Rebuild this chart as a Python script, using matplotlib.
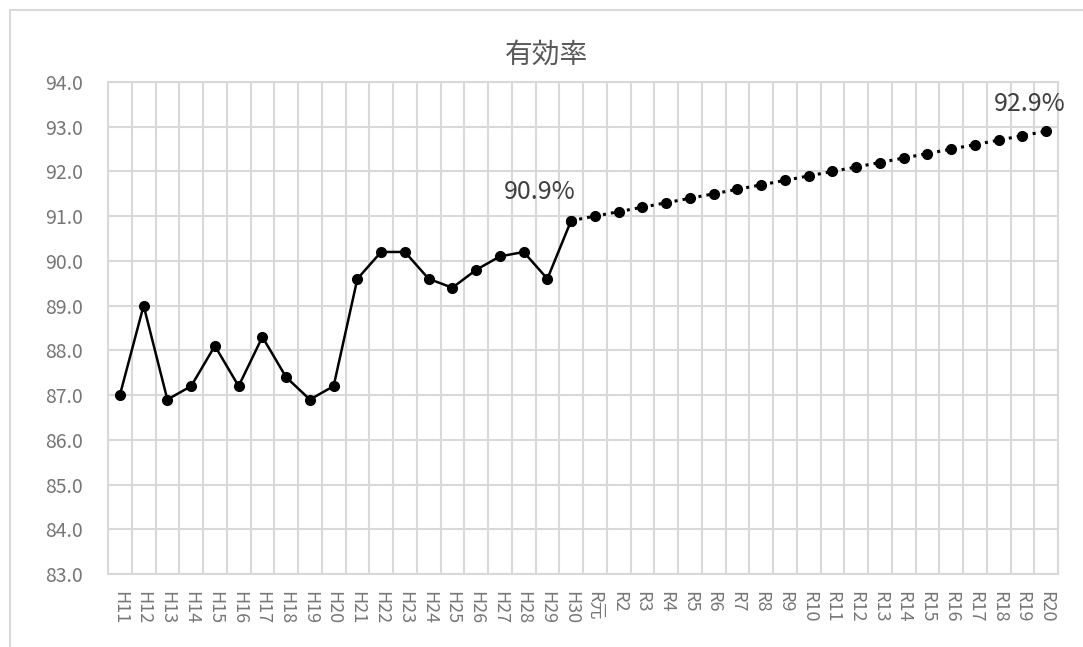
import matplotlib.pyplot as plt
from matplotlib.patches import Rectangle

plt.rcParams['font.family'] = ['Noto Sans CJK JP', 'DejaVu Sans']

# 年度ラベル（平成・令和）
years = ['H11', 'H12', 'H13', 'H14', 'H15', 'H16', 'H17', 'H18', 'H19', 'H20',
         'H21', 'H22', 'H23', 'H24', 'H25', 'H26', 'H27', 'H28', 'H29', 'H30',
         'R元', 'R2', 'R3', 'R4', 'R5', 'R6', 'R7', 'R8', 'R9', 'R10',
         'R11', 'R12', 'R13', 'R14', 'R15', 'R16', 'R17', 'R18', 'R19', 'R20']

# 実績値 H11〜H30
actual = [87.0, 89.0, 86.9, 87.2, 88.1, 87.2, 88.3, 87.4, 86.9, 87.2,
          89.6, 90.2, 90.2, 89.6, 89.4, 89.8, 90.1, 90.2, 89.6, 90.9]
# 目標値 H30〜R20
target = [90.9, 91.0, 91.1, 91.2, 91.3, 91.4, 91.5, 91.6, 91.7, 91.8,
          91.9, 92.0, 92.1, 92.2, 92.3, 92.4, 92.5, 92.6, 92.7, 92.8, 92.9]

yticks = [83.0, 84.0, 85.0, 86.0, 87.0, 88.0, 89.0, 90.0, 91.0, 92.0, 93.0, 94.0]

fig = plt.figure(figsize=(10.83, 6.47), dpi=100)
ax = fig.add_axes([108 / 1083, 1 - 574 / 647, 950 / 1083, 492 / 647])

# 外枠
fig.patches.append(Rectangle((10 / 1083, -0.1), 1.2, (647 - 10) / 647 + 0.1,
                             transform=fig.transFigure, fill=False,
                             edgecolor='#d9d9d9', linewidth=1.5))

x_act = list(range(len(actual)))
x_tgt = list(range(len(actual) - 1, len(years)))

ax.plot(x_tgt, target, ':', color='black', linewidth=2.2, marker='o',
        markersize=7, zorder=3)
ax.plot(x_act, actual, '-', color='black', linewidth=1.8, marker='o',
        markersize=7, zorder=4)

ax.annotate(f'{actual[-1]:.1f}%', (x_act[-1], actual[-1]),
            xytext=(-31, 29), textcoords='offset pixels',
            ha='center', va='center', fontsize=18, color='#404040')
ax.annotate(f'{target[-1]:.1f}%', (x_tgt[-1], target[-1]),
            xytext=(-16, 27), textcoords='offset pixels',
            ha='center', va='center', fontsize=18, color='#404040')

ax.set_xlim(-0.5, len(years) - 0.5)
ax.set_ylim(83, 94)
ax.set_yticks(yticks)
ax.set_yticklabels([f'{v:.1f}' for v in yticks])
ax.set_xticks(range(len(years)))
ax.set_xticklabels(years, rotation=270)
ax.set_xticks([i - 0.5 for i in range(len(years) + 1)], minor=True)

ax.grid(False)
ax.grid(True, which='minor', axis='x', color='#d9d9d9', linewidth=1.5)
ax.grid(True, which='major', axis='y', color='#d9d9d9', linewidth=1.5)
ax.set_axisbelow(True)
ax.tick_params(which='both', length=0)
ax.tick_params(axis='y', labelsize=14, labelcolor='#767676', pad=18)
ax.tick_params(axis='x', labelsize=13, labelcolor='#767676', pad=12)
for s in ax.spines.values():
    s.set_color('#d9d9d9')
    s.set_linewidth(1.5)

fig.text(547 / 1083, 1 - 55 / 647, '有効率', ha='center', va='center',
         fontsize=20, color='#595959')

fig.savefig('out.png', dpi=100)
